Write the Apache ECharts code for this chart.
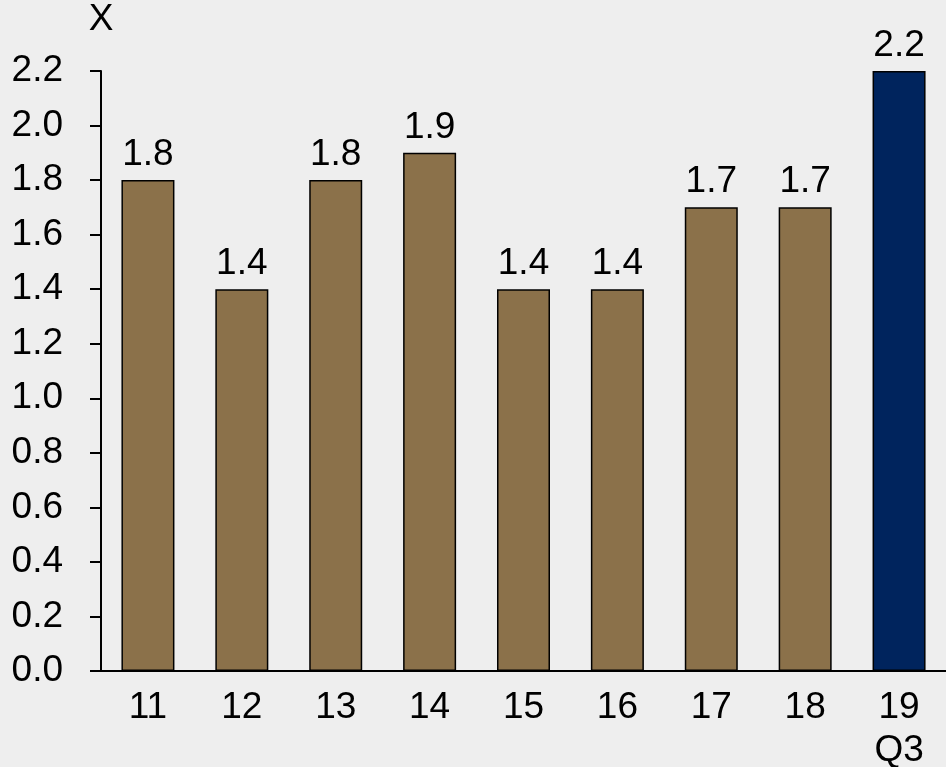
<!DOCTYPE html>
<html>
<head>
<meta charset="utf-8">
<script src="https://cdn.jsdelivr.net/npm/echarts@6/dist/echarts.min.js"></script>
<style>
  html, body { margin: 0; padding: 0; background: #eeeeee; }
  #chart { width: 946px; height: 767px; }
</style>
</head>
<body>
<div id="chart"></div>
<script>
// Year categories (the last one is a quarter-to-date figure)
const categories = ['11', '12', '13', '14', '15', '16', '17', '18', '19\nQ3'];
// Multiple values per year
const values = [1.8, 1.4, 1.8, 1.9, 1.4, 1.4, 1.7, 1.7, 2.2];
// Y axis tick labels
const yTicks = ['0.0', '0.2', '0.4', '0.6', '0.8', '1.0', '1.2', '1.4', '1.6', '1.8', '2.0', '2.2'];

const BROWN = '#8b714a';
const NAVY = '#00245d';
const FONT = 'Liberation Sans, Arial, sans-serif';
const FS = 37;

const chart = echarts.init(document.getElementById('chart'), null, { renderer: 'canvas' });

chart.setOption({
  backgroundColor: '#eeeeee',
  animation: false,
  grid: {
    left: 101, right: 0, top: 71, bottom: 96,
    containLabel: false, outerBoundsMode: 'none'
  },
  xAxis: {
    type: 'category',
    data: categories,
    axisLine: { lineStyle: { color: '#000', width: 2 } },
    axisTick: { show: false },
    axisLabel: {
      color: '#000', fontSize: FS, fontFamily: FONT,
      margin: 15, lineHeight: 43
    }
  },
  yAxis: {
    type: 'value',
    min: 0, max: 2.2, interval: 0.2,
    name: 'X',
    nameLocation: 'end',
    nameGap: 33,
    nameTextStyle: { color: '#000', fontSize: FS, fontFamily: FONT, align: 'center' },
    splitLine: { show: false },
    axisLine: { show: true, lineStyle: { color: '#000', width: 2 } },
    axisTick: { show: true, length: 11, lineStyle: { color: '#000', width: 2 } },
    axisLabel: {
      color: '#000', fontSize: FS, fontFamily: FONT, margin: 38,
      formatter: (v) => yTicks[Math.round(v / 0.2)]
    }
  },
  series: [{
    type: 'bar',
    data: values.map((v, i) => ({
      value: v,
      itemStyle: { color: i === values.length - 1 ? NAVY : BROWN }
    })),
    barWidth: 53,
    itemStyle: { borderColor: '#000', borderWidth: 1.5 },
    label: {
      show: true, position: 'top', distance: 7,
      color: '#000', fontSize: FS, fontFamily: FONT,
      formatter: (p) => p.value.toFixed(1)
    }
  }]
});
</script>
</body>
</html>
